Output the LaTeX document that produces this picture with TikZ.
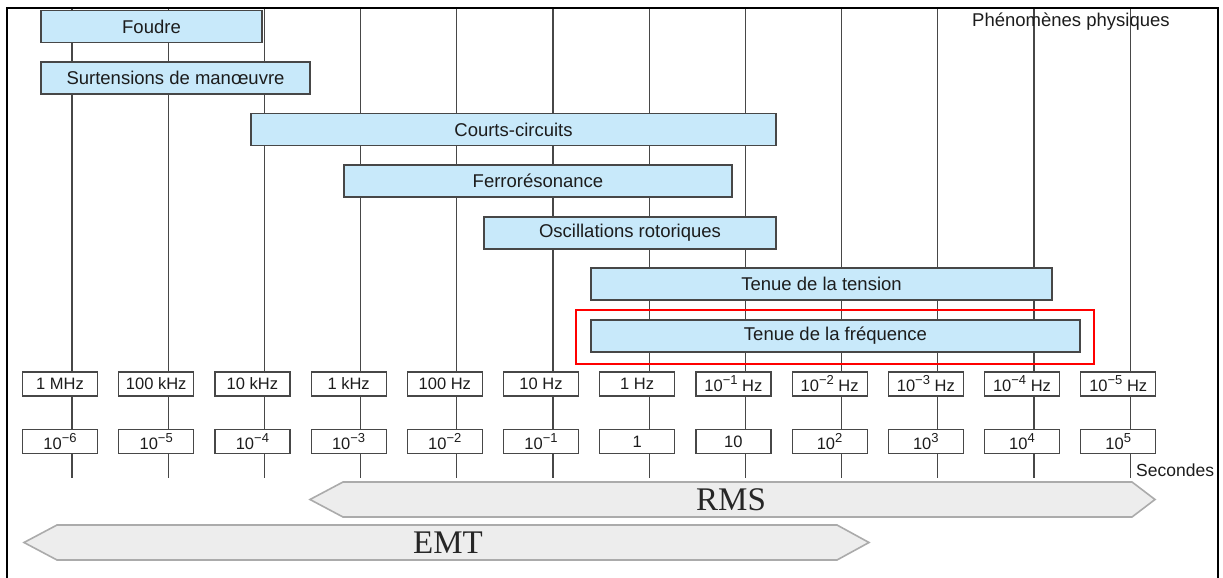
\documentclass[tikz,border=0pt]{standalone}
\usepackage{fontspec}
\setmainfont{Liberation Sans}
\newfontfamily\simfont{Liberation Serif}
\usepackage{xcolor}
\usepackage{tikz}

\definecolor{barblue}{HTML}{C8E9FA}
\definecolor{linegray}{HTML}{474747}
\definecolor{textgray}{HTML}{1C1C1C}
\definecolor{simfill}{HTML}{EDEDED}
\definecolor{simedge}{HTML}{ABABAB}

\newcommand\pw[1]{\raisebox{0.42em}{\fontsize{13}{15}\selectfont#1}}

\begin{document}
\begin{tikzpicture}[x=1pt, y=-1pt,
        axis/.style={draw=linegray, line width=1.3pt},
        phen/.style={draw=linegray, line width=1.4pt, fill=barblue, minimum height=32pt,
            inner sep=0pt, text=textgray, font=\fontsize{18.5}{21}\selectfont},
        scalebox/.style={draw=linegray, line width=1.2pt, fill=white, minimum width=75pt,
            minimum height=24pt, inner sep=0pt, text=textgray, font=\fontsize{16.5}{19}\selectfont},
        simband/.style={draw=simedge, line width=1.6pt, fill=simfill},
        simlabel/.style={text=black!85, font=\simfont\fontsize{33}{38}\selectfont},
        note/.style={text=textgray, font=\fontsize{18.5}{21}\selectfont, inner sep=0pt},
        hilite/.style={draw=red, line width=2pt}]
    \useasboundingbox (0,0) rectangle (1223,578);

    \foreach \i in {0,...,11} {
        \coordinate (t\i) at ({72+96.2*\i},8);
        \coordinate (b\i) at ({72+96.2*\i},478);
        \draw[axis] (t\i) -- (b\i);
    }

    \draw[line width=2.5pt] (7,578) -- (7,8) -- (1218,8) -- (1218,578);

    \node[phen, minimum width=221pt] (foudre) at (151.5,26.5) {Foudre};
    \node[phen, minimum width=269pt] (surtensions) at (175.5,78) {Surtensions de manœuvre};
    \node[phen, minimum width=525pt] (courts) at (513.5,129.5) {Courts-circuits};
    \node[phen, minimum width=388pt] (ferro) at (538,181) {Ferrorésonance};
    \node[phen, minimum width=292pt] (oscill) at (630,233) {Oscillations rotoriques};
    \node[phen, minimum width=461pt] (tension) at (821.5,284) {Tenue de la tension};
    \node[phen, minimum width=489pt] (frequence) at (835.5,336) {Tenue de la fréquence};

    \draw[hilite] (576,310) rectangle (1094,364);

    \foreach \f/\s [count=\i from 0] in {
            1 MHz/10\pw{−6},
            100 kHz/10\pw{−5},
            10 kHz/10\pw{−4},
            1 kHz/10\pw{−3},
            100 Hz/10\pw{−2},
            10 Hz/10\pw{−1},
            1 Hz/1,
            10\pw{−1} Hz/10,
            10\pw{−2} Hz/10\pw{2},
            10\pw{−3} Hz/10\pw{3},
            10\pw{−4} Hz/10\pw{4},
            10\pw{−5} Hz/10\pw{5}} {
        \node[scalebox] (f\i) at ({60+96.2*\i},384) {\f};
        \node[scalebox] (s\i) at ({60+96.2*\i},441.5) {\s};
    }

    \node[note, anchor=west] (phys) at (972,22) {Phénomènes physiques};
    \node[note, anchor=west, font=\fontsize{17.5}{20}\selectfont] (secondes) at (1136,470) {Secondes};

    \draw[simband] (310,499.5) -- (343,482) -- (1132,482) -- (1155,499.5)
        -- (1132,517) -- (343,517) -- cycle;
    \node[simlabel] (rms) at (731,500) {RMS};

    \draw[simband] (24,542.5) -- (57,525) -- (837,525) -- (869,542.5)
        -- (837,560) -- (57,560) -- cycle;
    \node[simlabel] (emt) at (448,543) {EMT};
\end{tikzpicture}
\end{document}
